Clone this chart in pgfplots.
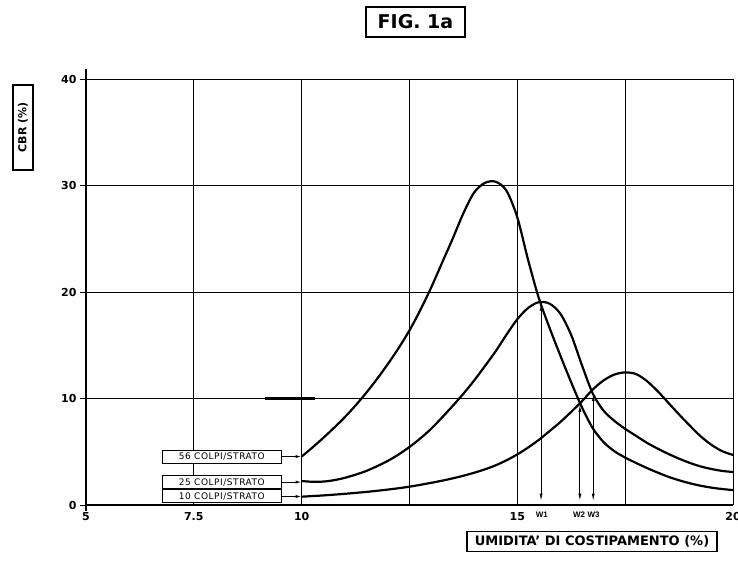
\documentclass[border=0pt]{standalone}
\usepackage{fontspec}
\setmainfont{DejaVu Sans}
\newfontfamily\narrow{Liberation Sans}
\usepackage{pgfplots}
\pgfplotsset{compat=1.18}
\usetikzlibrary{arrows.meta}

% curve data (x = moisture %, y = CBR %)
\pgfplotstableread{
x y
10 4.55
10.25 5.4
10.5 6.3
10.75 7.25
11.0 8.25
11.25 9.35
11.5 10.55
11.75 11.85
12.0 13.25
12.25 14.75
12.5 16.4
12.75 18.3
13.0 20.4
13.25 22.7
13.5 25.0
13.75 27.4
14.0 29.35
14.25 30.25
14.5 30.35
14.75 29.5
15.0 27.0
15.25 23.0
15.5 19.4
15.75 16.6
16.0 14.0
16.25 11.5
16.5 9.15
16.75 7.2
17.0 5.9
17.25 5.05
17.5 4.45
17.75 3.95
18.0 3.48
18.25 3.05
18.5 2.65
18.75 2.32
19.0 2.04
19.25 1.81
19.5 1.63
19.75 1.5
20 1.4
}\colpiA
\pgfplotstableread{
x y
10 2.25
10.25 2.18
10.5 2.2
10.75 2.33
11.0 2.55
11.25 2.85
11.5 3.2
11.75 3.65
12.0 4.15
12.25 4.75
12.5 5.45
12.75 6.25
13.0 7.15
13.25 8.2
13.5 9.3
13.75 10.45
14.0 11.7
14.25 13.05
14.5 14.45
14.75 16.0
15.0 17.45
15.25 18.5
15.5 19.05
15.75 18.9
16.0 17.95
16.25 15.95
16.5 13.1
16.75 10.45
17.0 8.85
17.25 7.9
17.5 7.15
17.75 6.5
18.0 5.85
18.25 5.3
18.5 4.8
18.75 4.35
19.0 3.95
19.25 3.62
19.5 3.38
19.75 3.2
20 3.1
}\colpiB
\pgfplotstableread{
x y
10 0.78
10.5 0.9
11.0 1.05
11.5 1.23
12.0 1.45
12.5 1.72
13.0 2.08
13.25 2.28
13.5 2.5
13.75 2.75
14.0 3.03
14.25 3.35
14.5 3.73
14.75 4.2
15.0 4.75
15.25 5.4
15.5 6.12
15.75 6.95
16.0 7.8
16.25 8.75
16.5 9.75
16.75 10.85
17.0 11.7
17.25 12.25
17.5 12.45
17.75 12.3
18.0 11.65
18.25 10.7
18.5 9.6
18.75 8.5
19.0 7.45
19.25 6.45
19.5 5.65
19.75 5.05
20 4.7
}\colpiC

\begin{document}
\begin{tikzpicture}
\path[use as bounding box] (0,0) rectangle (738pt,560pt);
\begin{axis}[
  at={(86pt,55pt)}, anchor=south west,
  scale only axis, width=647pt, height=426pt,
  xmin=5, xmax=20, ymin=0, ymax=40,
  axis lines*=left,
  axis line style={line width=1.6pt,-},
  xtick={5,7.5,10,12.5,15,17.5,20},
  xticklabels={5,7.5,10,,15,,20},
  ytick={0,10,20,30,40},
  grid=major, grid style={black,line width=0.9pt},
  major tick length=0pt,
  /pgf/number format/assume math mode=true,
  ticklabel style={font=\fontsize{11}{13}\selectfont\bfseries},
  xticklabel style={yshift=-4pt},
  yticklabel style={xshift=-6pt},
  clip=false,
]
\addplot[black,line width=2.2pt,smooth] table {\colpiA};
\addplot[black,line width=2.2pt,smooth] table {\colpiB};
\addplot[black,line width=2.2pt,smooth] table {\colpiC};

% axis extension, tick crosses and drafting mark
\draw[line width=1.6pt] (axis cs:5,-0.6) -- (axis cs:5,40.9);
\draw[line width=1pt] ([xshift=-6pt]axis cs:5,0) -- ([xshift=6pt]axis cs:5,0);
\draw[line width=1pt] ([xshift=-6pt]axis cs:5,10) -- ([xshift=6pt]axis cs:5,10);
\draw[line width=1pt] ([xshift=-6pt]axis cs:5,20) -- ([xshift=6pt]axis cs:5,20);
\draw[line width=1pt] ([xshift=-6pt]axis cs:5,30) -- ([xshift=6pt]axis cs:5,30);
\draw[line width=1pt] ([xshift=-6pt]axis cs:5,40) -- ([xshift=6pt]axis cs:5,40);
\draw[line width=2.4pt] (axis cs:9.15,10) -- (axis cs:10.3,10);

% W arrows
\tikzset{war/.style={{Latex[length=7pt,width=3pt]}-{Latex[length=7pt,width=3pt]},line width=0.8pt}}
\draw[war] (axis cs:15.55,0.4) -- (axis cs:15.55,18.9);
\draw[war] (axis cs:16.45,0.4) -- (axis cs:16.45,9.4);
\draw[war] (axis cs:16.76,0.4) -- (axis cs:16.76,10.4);
\tikzset{wlab/.style={font=\narrow\fontsize{8}{9}\selectfont\bfseries}}
\node[wlab] at (axis cs:15.57,-0.95) {W1};
\node[wlab] at (axis cs:16.43,-0.95) {W2};
\node[wlab] at (axis cs:16.77,-0.95) {W3};

% curve labels
\tikzset{lab/.style={draw,line width=1pt,fill=white,anchor=east,minimum width=119pt,minimum height=13pt,inner sep=0pt,font=\fontsize{9}{10}\selectfont\addfontfeature{LetterSpace=6}}}
\node[lab] at (axis cs:9.54,4.55) {56 COLPI/STRATO};
\node[lab] at (axis cs:9.54,2.15) {25 COLPI/STRATO};
\node[lab] at (axis cs:9.54,0.8) {10 COLPI/STRATO};
\draw[-{Latex[length=6pt,width=3pt]},line width=1pt] (axis cs:9.54,4.55) -- (axis cs:10,4.55);
\draw[-{Latex[length=6pt,width=3pt]},line width=1pt] (axis cs:9.54,2.15) -- (axis cs:10,2.15);
\draw[-{Latex[length=6pt,width=3pt]},line width=1pt] (axis cs:9.54,0.8) -- (axis cs:10,0.8);
\end{axis}
% titles
\node[draw,line width=1.2pt,minimum width=99pt,minimum height=30pt,inner sep=0pt,font=\fontsize{19}{21}\selectfont\bfseries] at (415.5pt,538pt) {FIG. 1a};
\node[draw,line width=1.1pt,rotate=90,minimum width=85pt,minimum height=20pt,inner sep=0pt,font=\fontsize{11}{13}\selectfont\bfseries] at (23pt,432.5pt) {CBR (\%)};
\node[draw,line width=1.1pt,minimum width=250pt,minimum height=20pt,inner sep=0pt,font=\fontsize{13}{15}\selectfont\bfseries] at (592pt,18.3pt) {UMIDITA' DI COSTIPAMENTO (\%)};
\end{tikzpicture}
\end{document}
